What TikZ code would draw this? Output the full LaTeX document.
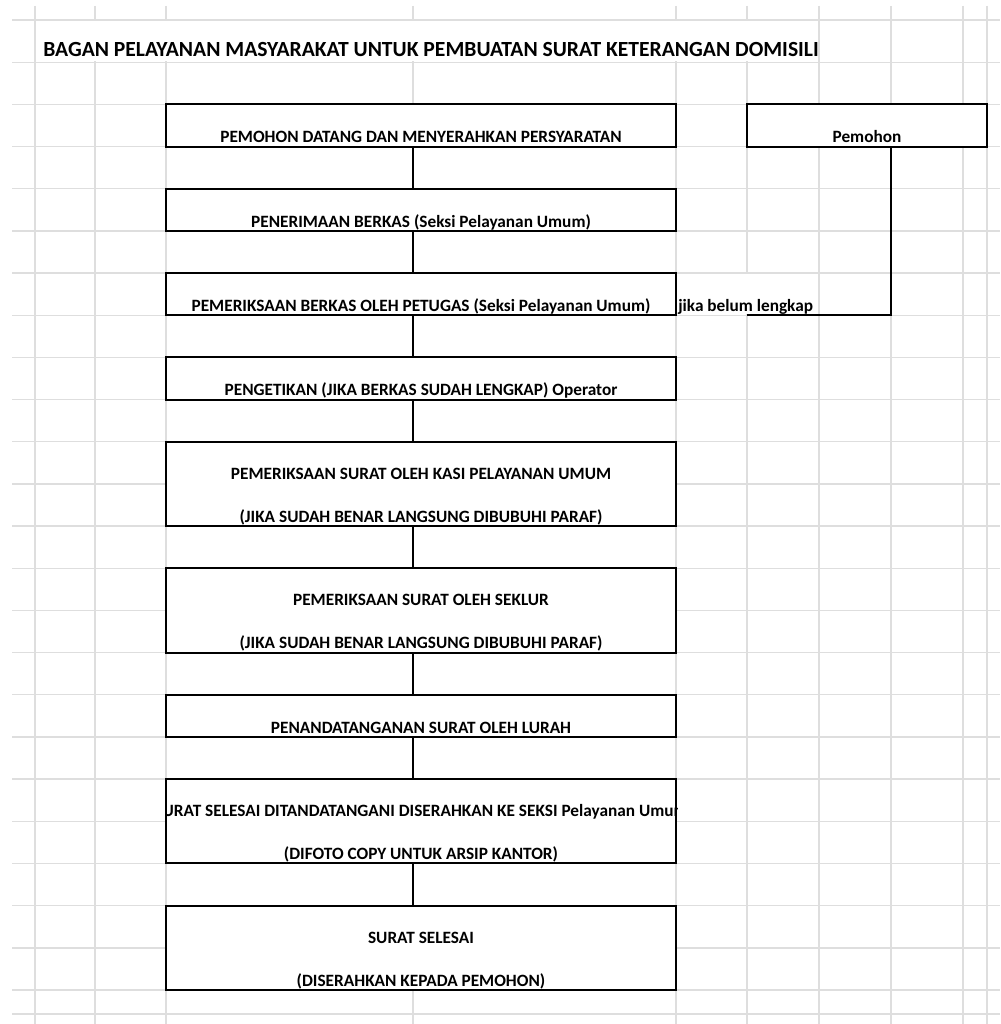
\documentclass[tikz,border=0pt]{standalone}
\usepackage{fontspec}
\setmainfont{Carlito}
\usetikzlibrary{positioning}
\definecolor{gridgray}{RGB}{222,222,222}
\tikzset{
  cell/.style={draw=gridgray, line width=1pt},
  box/.style={draw, fill=white, line width=1.5pt, inner sep=0pt, minimum width=382.5pt, minimum height=31.63pt},
  tallbox/.style={box, minimum height=63.26pt},
  lbl/.style={font=\bfseries\fontsize{12.95}{14}\selectfont, inner sep=0pt, anchor=base},
  link/.style={line width=1.5pt}
}

\begin{document}
\begin{tikzpicture}[x=0.75pt, y=-0.75pt]
            \useasboundingbox (0,0) rectangle (1000,1024);
            % Spreadsheet grid
            \foreach \r in {0,...,23}
                \draw[cell] (12,20+42.174*\r) -- (1000,20+42.174*\r);
            \draw[cell] (12,1014) -- (1000,1014);
            \foreach \c in {35,95,166,413,676,747,819,891,963,987}
                \draw[cell] (\c,6) -- (\c,1024);
            \fill[white] (36,21) rectangle (818,61);
            \fill[white] (677,274) rectangle (818,314);
            % Title
            \node[lbl, anchor=base west, font=\bfseries\fontsize{16.2}{18}\selectfont] (title) at (43,57) {BAGAN PELAYANAN MASYARAKAT UNTUK PEMBUATAN SURAT KETERANGAN DOMISILI};
            % Steps
            \node[box] (b1) at (421,125.43) {};
            \node[box] (b2) at (421,209.78) {};
            \node[box] (b3) at (421,294.13) {};
            \node[box] (b4) at (421,378.48) {};
            \node[tallbox] (b5) at (421,483.91) {};
            \node[tallbox] (b6) at (421,610.44) {};
            \node[box] (b7) at (421,715.87) {};
            \node[tallbox] (b8) at (421,821.31) {};
            \node[tallbox] (b9) at (421,947.83) {};
            \node[box, minimum width=180pt] (pemohon) at (867,125.43) {};
            \node[lbl] (t1) at ([yshift=3.6pt]b1.south) {PEMOHON DATANG DAN MENYERAHKAN PERSYARATAN};
            \node[lbl] (t2) at ([yshift=3.6pt]b2.south) {PENERIMAAN BERKAS (Seksi Pelayanan Umum)};
            \node[lbl] (t3) at ([yshift=3.6pt]b3.south) {PEMERIKSAAN BERKAS OLEH PETUGAS (Seksi Pelayanan Umum)};
            \node[lbl] (t4) at ([yshift=3.6pt]b4.south) {PENGETIKAN (JIKA BERKAS SUDAH LENGKAP) Operator};
            \node[lbl] (t5a) at ([yshift=3.6pt]b5.center) {PEMERIKSAAN SURAT OLEH KASI PELAYANAN UMUM};
            \node[lbl] (t5b) at ([yshift=3.6pt]b5.south) {(JIKA SUDAH BENAR LANGSUNG DIBUBUHI PARAF)};
            \node[lbl] (t6a) at ([yshift=3.6pt]b6.center) {PEMERIKSAAN SURAT OLEH SEKLUR};
            \node[lbl] (t6b) at ([yshift=3.6pt]b6.south) {(JIKA SUDAH BENAR LANGSUNG DIBUBUHI PARAF)};
            \node[lbl] (t7) at ([yshift=3.6pt]b7.south) {PENANDATANGANAN SURAT OLEH LURAH};
            \begin{scope}
                \clip (b8.north west) rectangle (b8.south east);
                \node[lbl] (t8a) at ([yshift=3.6pt]b8.center) {SURAT SELESAI DITANDATANGANI DISERAHKAN KE SEKSI Pelayanan Umum};
            \end{scope}
            \node[lbl] (t8b) at ([yshift=3.6pt]b8.south) {(DIFOTO COPY UNTUK ARSIP KANTOR)};
            \node[lbl] (t9a) at ([yshift=3.6pt]b9.center) {SURAT SELESAI};
            \node[lbl] (t9b) at ([yshift=3.6pt]b9.south) {(DISERAHKAN KEPADA PEMOHON)};
            \node[lbl] (tp) at ([yshift=3.6pt]pemohon.south) {Pemohon};
            % Connectors
            \coordinate (spine) at (413,0);
            \foreach \a/\b in {b1/b2,b2/b3,b3/b4,b4/b5,b5/b6,b6/b7,b7/b8,b8/b9}
                \draw[link] (\a.south -| spine) -- (\b.north -| spine);
            % Back to applicant
            \node[lbl, anchor=base west] (jika) at (678,311) {jika belum lengkap};
            \coordinate (turn) at (891,315.22);
            \coordinate (back) at (747,315.22);
            \draw[link] (pemohon.south -| turn) -- (turn) -- (back);
        \end{tikzpicture}
\end{document}
